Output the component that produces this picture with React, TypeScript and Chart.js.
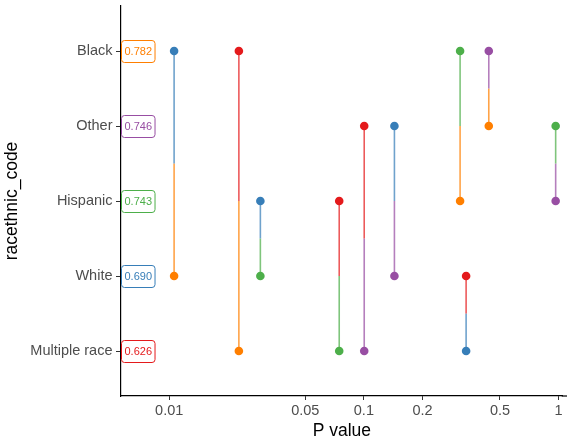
import React, { useEffect, useRef } from 'react';
import { Chart, registerables } from 'chart.js';

Chart.register(...registerables);

// Groups on the vertical axis (top to bottom) and their colours
const groups = ['Black', 'Other', 'Hispanic', 'White', 'Multiple race'];
const groupColors = ['#FF7F00', '#984EA3', '#4DAF4A', '#377EB8', '#E41A1C'];
// Per-group score shown in the boxed label next to the axis
const groupScores = [0.782, 0.746, 0.743, 0.69, 0.626];

// Pairwise comparisons: first group, second group and the P value
const pairFirst = ['Black', 'Black', 'Hispanic', 'Hispanic', 'Other', 'Other', 'Black', 'Black', 'White', 'Other'];
const pairSecond = ['White', 'Multiple race', 'White', 'Multiple race', 'Multiple race', 'White', 'Hispanic', 'Other', 'Multiple race', 'Hispanic'];
const pValues = [0.0106, 0.0228, 0.0294, 0.0747, 0.1004, 0.1435, 0.312, 0.438, 0.335, 0.966];

const xTickValues = [0.01, 0.05, 0.1, 0.2, 0.5, 1];

const FONT = '"Liberation Sans", Arial, Helvetica, sans-serif';

function withAlpha(hex: string, a: number): string {
  const n = parseInt(hex.slice(1), 16);
  return `rgba(${(n >> 16) & 255}, ${(n >> 8) & 255}, ${n & 255}, ${a})`;
}

// Each comparison is drawn as two half segments; the half touching a group's
// row carries the colour of the other group in the pair, as does its dot.
function buildDatasets() {
  const sets: any[] = [];
  pValues.forEach((p, k) => {
    const ia = groups.indexOf(pairFirst[k]);
    const ib = groups.indexOf(pairSecond[k]);
    const mid = (ia + ib) / 2;
    const halves = [
      { row: ia, color: groupColors[ib] },
      { row: ib, color: groupColors[ia] },
    ];
    halves.forEach((h) => {
      sets.push({
        label: `${pairFirst[k]} vs ${pairSecond[k]}`,
        data: [
          { x: p, y: h.row },
          { x: p, y: mid },
        ],
        showLine: true,
        borderColor: withAlpha(h.color, 0.72),
        borderWidth: 1.6,
        pointRadius: [4.3, 0],
        pointHoverRadius: [4.3, 0],
        pointBackgroundColor: h.color,
        pointBorderColor: h.color,
        pointBorderWidth: 0,
      });
    });
  });
  return sets;
}

// Boxed score labels pinned to the left edge of the plot, plus the
// bottom axis line carried on to the right edge of the canvas
const panelExtras = {
  id: 'panelExtras',
  afterDatasetsDraw(chart: any) {
    const { ctx, chartArea, scales } = chart;
    const yScale = scales.y;
    ctx.save();
    ctx.font = `11px ${FONT}`;
    ctx.textBaseline = 'middle';
    ctx.textAlign = 'center';
    groups.forEach((_, i) => {
      const cy = yScale.getPixelForValue(i);
      const text = groupScores[i].toFixed(3);
      const tw = ctx.measureText(text).width;
      const w = tw + 6;
      const h = 22;
      const x0 = chartArea.left + 0.5;
      const y0 = Math.round(cy - h / 2) + 0.5;
      ctx.beginPath();
      ctx.roundRect(x0, y0, w, h, 3);
      ctx.fillStyle = '#ffffff';
      ctx.fill();
      ctx.strokeStyle = groupColors[i];
      ctx.lineWidth = 1;
      ctx.stroke();
      ctx.fillStyle = groupColors[i];
      ctx.fillText(text, x0 + w / 2, cy + 0.5);
    });
    ctx.restore();
  },
  afterDraw(chart: any) {
    const { ctx, chartArea, width } = chart;
    ctx.save();
    ctx.strokeStyle = '#000000';
    ctx.lineWidth = 1.2;
    ctx.beginPath();
    ctx.moveTo(chartArea.right - 1, chartArea.bottom);
    ctx.lineTo(width, chartArea.bottom);
    ctx.stroke();
    ctx.restore();
  },
};

export default function App() {
  const canvasRef = useRef<HTMLCanvasElement | null>(null);

  useEffect(() => {
    document.body.style.margin = '0';
    const canvas = canvasRef.current;
    if (!canvas) return;

    const chart = new Chart(canvas, {
      type: 'scatter',
      data: { datasets: buildDatasets() },
      plugins: [panelExtras],
      options: {
        responsive: false,
        animation: false,
        events: [],
        layout: { padding: { top: 6, right: 1, left: 0, bottom: 0 } },
        plugins: {
          legend: { display: false },
          tooltip: { enabled: false },
        },
        scales: {
          x: {
            type: 'logarithmic',
            min: 0.005657,
            max: 1.0498,
            afterFit(scale: any) {
              scale.height = 49;
              scale.paddingLeft = 0;
              scale.paddingRight = 0;
            },
            afterBuildTicks(scale: any) {
              scale.ticks = xTickValues.map((v) => ({ value: v }));
            },
            border: { display: true, color: '#000000', width: 1.2 },
            grid: {
              drawOnChartArea: false,
              drawTicks: true,
              tickLength: 4,
              tickColor: '#333333',
              color: '#333333',
            },
            ticks: {
              autoSkip: false,
              maxRotation: 0,
              minRotation: 0,
              padding: 2,
              color: '#4D4D4D',
              font: { family: FONT, size: 14.5 },
              callback: (v: any) => String(v),
            },
            title: {
              display: true,
              text: 'P value',
              color: '#000000',
              font: { family: FONT, size: 17.5 },
              padding: { top: 0, bottom: 3 },
            },
          },
          y: {
            type: 'linear',
            reverse: true,
            min: -0.6,
            max: 4.6,
            afterFit(scale: any) {
              scale.width = 121;
              scale.paddingTop = 0;
              scale.paddingBottom = 0;
            },
            afterBuildTicks(scale: any) {
              scale.ticks = groups.map((_, i) => ({ value: i }));
            },
            border: { display: true, color: '#000000', width: 1.2 },
            grid: {
              drawOnChartArea: false,
              drawTicks: true,
              tickLength: 5,
              tickColor: '#333333',
              color: '#333333',
            },
            ticks: {
              autoSkip: false,
              padding: 3.5,
              color: '#4D4D4D',
              font: { family: FONT, size: 14.5 },
              callback: (v: any) => groups[v] ?? '',
            },
            title: {
              display: true,
              text: 'racethnic_code',
              color: '#000000',
              font: { family: FONT, size: 17.5 },
              padding: { top: 1.5, bottom: 0 },
            },
          },
        },
      },
    });

    return () => chart.destroy();
  }, []);

  return (
    <div style={{ width: 567, height: 445, background: '#ffffff' }}>
      <canvas ref={canvasRef} width={567} height={445} />
    </div>
  );
}
